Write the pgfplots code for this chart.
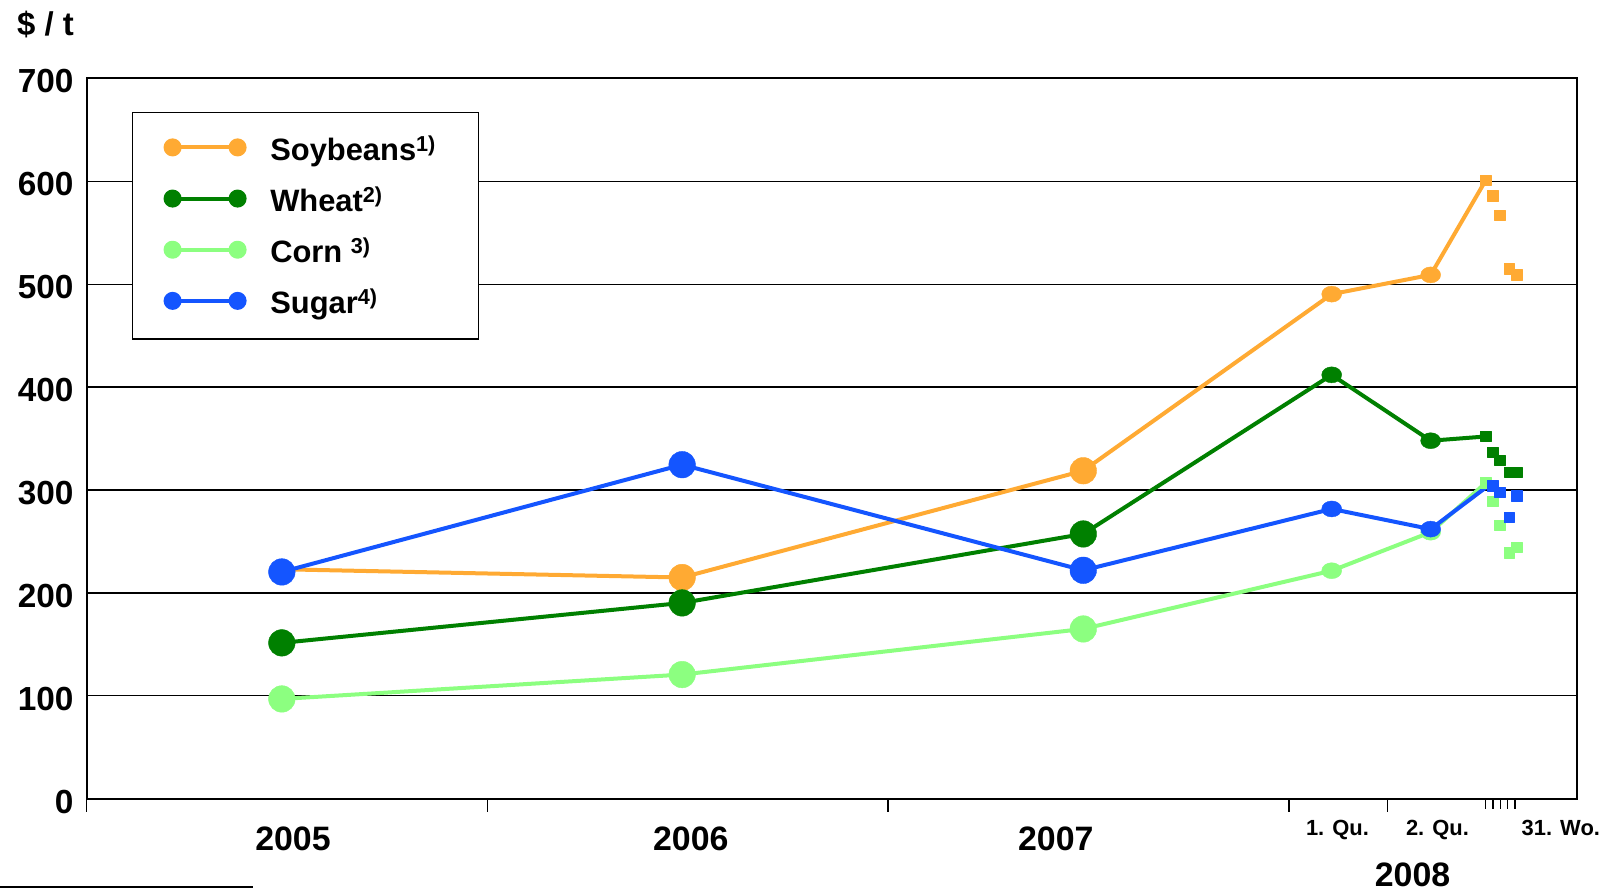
\documentclass[border=0pt]{standalone}
\usepackage{pgfplots}
\pgfplotsset{compat=1.18}
\usepackage{fontspec}
\setmainfont{Liberation Sans}
\definecolor{soy}{RGB}{255,170,51}
\definecolor{wheat}{RGB}{0,128,0}
\definecolor{corn}{RGB}{140,255,128}
\definecolor{sugar}{RGB}{20,85,255}
\begin{document}
\begin{tikzpicture}
\path[use as bounding box] (-86.7bp,-94.2bp) rectangle (1533.3bp,798.8bp);
\begin{axis}[
  at={(0,0)}, anchor=south west,
  width=1490bp, height=720.5bp, scale only axis,
  xmin=0, xmax=3.7185, ymin=0, ymax=700,
  clip=false,
  axis line style={line width=2bp},
  xtick={0,1,2,3,3.2463}, xticklabels={},
  minor xtick={3.4907,3.5099,3.5281,3.5463,3.5650},
  xtick pos=bottom, ytick pos=left,
  tick align=outside,
  major tick length=13bp, minor tick length=10bp,
  xtick style={black, line width=1.5bp},
  minor tick style={black, line width=1.5bp},
  ytick={0,100,...,700}, ytick style={draw=none},
  ymajorgrids, grid style={black, line width=1.2bp},
  /pgf/number format/assume math mode=true,
  yticklabel style={font=\fontsize{33.5}{40}\selectfont\bfseries, anchor=east, inner sep=0pt, xshift=0bp, yshift=-3bp},
  legend style={at={(0.0306,0.9536)}, anchor=north west, draw=black, line width=1.2bp, fill=white,
    inner xsep=30.7bp, inner ysep=23.5bp, row sep=25bp,
    font=\fontsize{31}{37}\selectfont\bfseries, nodes={inner sep=0pt},
    /tikz/every odd column/.append style={column sep=23.7bp}},
  legend cell align=left,
  legend image code/.code={
    \draw[#1, line width=4bp] (0bp,1.5bp) -- (65bp,1.5bp);
    \fill[#1] (0bp,1.5bp) circle (7bp) (65bp,1.5bp) circle (7bp);
  },
  every axis plot/.append style={line join=round},
]
% Soybeans
\addplot[soy, line width=4bp, mark=none] coordinates {(0.487,223) (1.486,215) (2.487,318.7) (3.107,490.3) (3.354,509) (3.4915,601)};
\addlegendentry{\makebox[177.4bp][l]{Soybeans\textsuperscript{1)}}}
\addplot[soy, only marks, mark=*, mark size=13.3bp, forget plot] coordinates {(1.486,215) (2.487,318.7)};
\addplot[soy, only marks, mark=*, mark size=8bp, mark options={xscale=1.25}, forget plot] coordinates {(3.107,490.3) (3.354,509)};
\addplot[soy, only marks, mark=square*, mark size=5.2bp, forget plot] coordinates {(3.4915,601) (3.509,586) (3.5265,567) (3.5497,515) (3.5689,509)};
% Wheat
\addplot[wheat, line width=4bp, mark=none] coordinates {(0.487,151.5) (1.486,190.3) (2.487,257.3) (3.107,411.9) (3.354,347.9) (3.4915,352)};
\addlegendentry{\makebox[177.4bp][l]{Wheat\textsuperscript{2)}}}
\addplot[wheat, only marks, mark=*, mark size=13.3bp, forget plot] coordinates {(0.487,151.5) (1.486,190.3) (2.487,257.3)};
\addplot[wheat, only marks, mark=*, mark size=8bp, mark options={xscale=1.25}, forget plot] coordinates {(3.107,411.9) (3.354,347.9)};
\addplot[wheat, only marks, mark=square*, mark size=5.2bp, forget plot] coordinates {(3.4915,352) (3.509,337) (3.5265,329) (3.5497,317.5) (3.5689,317.5)};
% Corn
\addplot[corn, line width=4bp, mark=none] coordinates {(0.487,97) (1.486,120.7) (2.487,165) (3.107,221.6) (3.354,259) (3.4915,307)};
\addlegendentry{\makebox[177.4bp][l]{Corn \textsuperscript{3)}}}
\addplot[corn, only marks, mark=*, mark size=13.3bp, forget plot] coordinates {(0.487,97) (1.486,120.7) (2.487,165)};
\addplot[corn, only marks, mark=*, mark size=8bp, mark options={xscale=1.25}, forget plot] coordinates {(3.107,221.6) (3.354,259)};
\addplot[corn, only marks, mark=square*, mark size=5.2bp, forget plot] coordinates {(3.4915,307) (3.509,289) (3.5265,265.6) (3.5497,239) (3.5689,244.5)};
% Sugar
\addplot[sugar, line width=4bp, mark=none] coordinates {(0.487,220.4) (1.486,324.6) (2.487,222) (3.107,281.6) (3.354,262) (3.497,304)};
\addlegendentry{\makebox[177.4bp][l]{Sugar\textsuperscript{4)}}}
\addplot[sugar, only marks, mark=*, mark size=13.3bp, forget plot] coordinates {(0.487,220.4) (1.486,324.6) (2.487,222)};
\addplot[sugar, only marks, mark=*, mark size=8bp, mark options={xscale=1.25}, forget plot] coordinates {(3.107,281.6) (3.354,262)};
\addplot[sugar, only marks, mark=square*, mark size=5.2bp, forget plot] coordinates {(3.509,304) (3.5265,298) (3.5497,273.4) (3.5689,294.5)};
\end{axis}
\begin{scope}[every node/.style={inner sep=0pt, font=\bfseries}]
\node[anchor=base west, font=\fontsize{33}{40}\selectfont\bfseries] at (-69.7bp,762.8bp) {\$ / t};
\node[anchor=base, font=\fontsize{34}{40}\selectfont\bfseries] at (206.3bp,-51.2bp) {2005};
\node[anchor=base, font=\fontsize{34}{40}\selectfont\bfseries] at (604.1bp,-51.2bp) {2006};
\node[anchor=base, font=\fontsize{34}{40}\selectfont\bfseries] at (969.1bp,-51.2bp) {2007};
\node[anchor=base, font=\fontsize{34}{40}\selectfont\bfseries] at (1325.8bp,-87.9bp) {2008};
\node[anchor=base, font=\fontsize{22}{26}\selectfont\bfseries] at (1250.8bp,-36.2bp) {1. Qu.};
\node[anchor=base, font=\fontsize{22}{26}\selectfont\bfseries] at (1350.8bp,-36.2bp) {2. Qu.};
\node[anchor=base, font=\fontsize{22}{26}\selectfont\bfseries] at (1474.1bp,-36.2bp) {31. Wo.};
\end{scope}
\draw[line width=2bp] (-86.7bp,-87.9bp) -- (166.6bp,-87.9bp);
\end{tikzpicture}
\end{document}
